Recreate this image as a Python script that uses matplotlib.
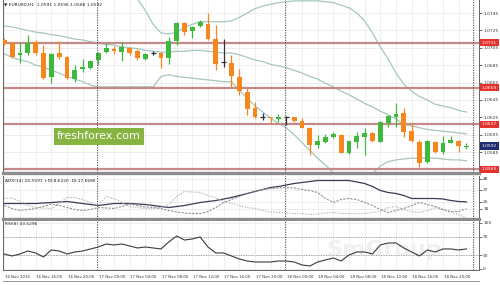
import matplotlib
matplotlib.use("Agg")
import matplotlib.pyplot as plt
import matplotlib.transforms as mtransforms
import numpy as np

W, H = 500, 285

# EURUSD H1, bar 0 = 16 Nov 12:00
opens = [1.0714, 1.0711, 1.0697, 1.0699, 1.0712, 1.0699, 1.0671, 1.0699, 1.0694, 1.0669,
         1.0681, 1.0682, 1.0691, 1.0700, 1.0704, 1.0700, 1.0705, 1.0701, 1.0692, 1.0699,
         1.0699, 1.0693, 1.0713, 1.0733, 1.0724, 1.0730, 1.0732, 1.0715, 1.0689, 1.0687,
         1.0671, 1.0654, 1.0636, 1.0625, 1.0625, 1.0623, 1.0625, 1.0625, 1.0621, 1.0613,
         1.0593, 1.0597, 1.0602, 1.0605, 1.0584, 1.0597, 1.0602, 1.0607, 1.0597, 1.0618,
         1.0625, 1.0630, 1.0609, 1.0597, 1.0573, 1.0597, 1.0585, 1.0595, 1.0598, 1.0591]
highs = [1.0716, 1.0712, 1.0711, 1.0720, 1.0714, 1.0708, 1.0699, 1.0713, 1.0696, 1.0685,
         1.0692, 1.0691, 1.0700, 1.0711, 1.0707, 1.0712, 1.0706, 1.0704, 1.0699, 1.0701,
         1.0700, 1.0717, 1.0735, 1.0735, 1.0730, 1.0737, 1.0745, 1.0731, 1.0715, 1.0697,
         1.0681, 1.0659, 1.0643, 1.0630, 1.0625, 1.0629, 1.0627, 1.0625, 1.0624, 1.0614,
         1.0605, 1.0606, 1.0608, 1.0606, 1.0598, 1.0608, 1.0613, 1.0608, 1.0621, 1.0628,
         1.0641, 1.0636, 1.0618, 1.0599, 1.0599, 1.0598, 1.0603, 1.0604, 1.0599, 1.0596]
lows = [1.0708, 1.0693, 1.0687, 1.0697, 1.0697, 1.0669, 1.0664, 1.0692, 1.0669, 1.0666,
        1.0677, 1.0681, 1.0685, 1.0699, 1.0698, 1.0690, 1.0697, 1.0691, 1.0691, 1.0697,
        1.0682, 1.0686, 1.0708, 1.0720, 1.0716, 1.0729, 1.0714, 1.0679, 1.0683, 1.0660,
        1.0651, 1.0628, 1.0624, 1.0622, 1.0618, 1.0620, 1.0616, 1.0620, 1.0613, 1.0582,
        1.0590, 1.0595, 1.0601, 1.0584, 1.0583, 1.0590, 1.0582, 1.0597, 1.0597, 1.0614,
        1.0614, 1.0602, 1.0597, 1.0568, 1.0572, 1.0584, 1.0583, 1.0595, 1.0585, 1.0588]
closes = [1.0709, 1.0694, 1.0699, 1.0711, 1.0699, 1.0670, 1.0698, 1.0694, 1.0670, 1.0679,
          1.0683, 1.0690, 1.0699, 1.0705, 1.0701, 1.0706, 1.0699, 1.0693, 1.0698, 1.0699,
          1.0693, 1.0713, 1.0733, 1.0723, 1.0729, 1.0735, 1.0715, 1.0686, 1.0689, 1.0672,
          1.0655, 1.0635, 1.0625, 1.0625, 1.0624, 1.0625, 1.0625, 1.0621, 1.0613, 1.0593,
          1.0598, 1.0602, 1.0606, 1.0584, 1.0598, 1.0603, 1.0607, 1.0598, 1.0620, 1.0626,
          1.0629, 1.0608, 1.0598, 1.0572, 1.0598, 1.0585, 1.0595, 1.0599, 1.0592, 1.0592]

# Bollinger bands
bb_upper = [1.0763] * 17 + [
    1.0761, 1.0748, 1.0732, 1.0722, 1.0721, 1.0723, 1.0728, 1.0732, 1.0735, 1.0735,
    1.0735, 1.0735, 1.0736, 1.0740, 1.0745, 1.0750, 1.0753, 1.0755, 1.0757, 1.0758,
    1.0759, 1.0759, 1.0759, 1.0759, 1.0758, 1.0757, 1.0754, 1.0751, 1.0745, 1.0736,
    1.0722, 1.0706, 1.0692, 1.0676, 1.0663, 1.0655, 1.0649, 1.0645, 1.0640, 1.0638,
    1.0636, 1.0633, 1.0631]
bb_middle = [1.0730, 1.0729, 1.0727, 1.0725, 1.0723, 1.0722, 1.0720, 1.0719, 1.0717, 1.0715,
             1.0714, 1.0712, 1.0710, 1.0709, 1.0708, 1.0706, 1.0705, 1.0704, 1.0702, 1.0701,
             1.0700, 1.0700, 1.0701, 1.0701, 1.0702, 1.0702, 1.0701, 1.0700, 1.0699, 1.0699,
             1.0697, 1.0694, 1.0691, 1.0689, 1.0686, 1.0684, 1.0682, 1.0679, 1.0676, 1.0672,
             1.0669, 1.0664, 1.0660, 1.0655, 1.0651, 1.0646, 1.0641, 1.0637, 1.0632, 1.0628,
             1.0623, 1.0617, 1.0615, 1.0613, 1.0611, 1.0610, 1.0609, 1.0608, 1.0607, 1.0606]
bb_lower = [1.0698, 1.0694, 1.0691, 1.0689, 1.0685, 1.0683, 1.0679, 1.0676, 1.0672, 1.0669,
            1.0666, 1.0662, 1.0660, 1.0660, 1.0660, 1.0660, 1.0660, 1.0660, 1.0660, 1.0660,
            1.0672, 1.0674, 1.0672, 1.0671, 1.0670, 1.0669, 1.0668, 1.0667, 1.0666, 1.0666,
            1.0656, 1.0647, 1.0638, 1.0631, 1.0624, 1.0618, 1.0613, 1.0605, 1.0596, 1.0587,
            1.0578, 1.0570, 1.0561, 1.0553, 1.0547, 1.0547, 1.0553, 1.0560, 1.0569, 1.0574,
            1.0576, 1.0577, 1.0578, 1.0578, 1.0578, 1.0578, 1.0577, 1.0576, 1.0576, 1.0575]

# ADX(14)
adx = [23, 23, 23, 23, 23, 23.5, 24, 24.5, 25, 24,
       23, 22, 21, 22, 23, 23, 23, 22.5, 22, 21,
       20, 19, 20, 21, 22.5, 24, 25, 26, 27.5, 29,
       31, 33, 35, 37, 39, 40, 41.5, 43, 44, 45,
       46, 46, 46, 46, 46, 44.5, 43, 40, 36, 34,
       33, 31, 28, 28, 28, 28, 27.5, 26, 25, 24.6]
plus_di = [28, 28.5, 25, 21, 19, 18.5, 18, 23, 29, 29,
           27, 24, 21, 30, 28, 24, 20, 19, 18, 18,
           19, 22, 30, 35, 34.5, 34, 31, 29, 25, 23,
           21, 19, 18, 16, 14.5, 14, 13.5, 13, 13, 12,
           12.5, 13.5, 14, 13, 13, 13, 13, 14, 15, 19,
           20, 17, 15, 14, 16, 19, 17, 14, 12, 8.6]
minus_di = [21, 18, 16, 17, 18, 20, 22.5, 21, 19, 17,
            16, 17, 19, 18.5, 18, 20, 22.5, 21, 19.5, 19,
            18, 16, 14.5, 13.5, 13, 13, 15, 19, 24, 27,
            30, 33, 35, 37, 38, 38.5, 39, 38.5, 37, 36,
            34, 28, 24, 27, 28, 27, 24, 21, 17, 14,
            16, 18, 21, 24, 22, 20, 17, 15, 15, 17.7]

# RSI(8)
rsi = [32.6, 28.3, 32.6, 39.1, 34.8, 26.1, 41.3, 39.1, 32.6, 37.0,
       39.1, 43.5, 47.8, 54.3, 52.2, 54.3, 50.0, 45.7, 47.8, 45.7,
       43.5, 58.7, 71.7, 63.0, 65.2, 69.6, 47.8, 34.8, 34.8, 28.3,
       21.7, 17.4, 15.2, 15.2, 15.2, 17.4, 17.4, 15.2, 8.7, 6.5,
       15.2, 19.6, 23.9, 17.4, 30.4, 37.0, 37.0, 32.6, 52.2, 56.5,
       56.5, 45.7, 37.0, 28.3, 41.3, 37.0, 43.5, 43.5, 41.3, 43.6]

levels = [1.0711, 1.0659, 1.0617, 1.0565]
last_price = 1.0592
price_ticks = [1.0745, 1.0725, 1.0705, 1.0685, 1.0665, 1.0645, 1.0625, 1.0605, 1.0585]
adx_ticks = [48, 37, 25, 18]
rsi_ticks = [100, 70, 30, 0]
time_labels = ["16 Nov 2016", "16 Nov 16:00", "16 Nov 20:00", "17 Nov 00:00", "17 Nov 04:00",
               "17 Nov 08:00", "17 Nov 12:00", "17 Nov 16:00", "17 Nov 20:00", "18 Nov 00:00",
               "18 Nov 04:00", "18 Nov 08:00", "18 Nov 12:00", "18 Nov 16:00", "18 Nov 20:00"]
time_label_bars = list(range(0, 60, 4))
day_breaks = [12, 36, 60]

BULL = "#3dba3d"
BEAR = "#f7861c"
DOJI = "#333333"
BAND = "#a6c7bd"
LEVEL = "#c48a8a"
SEP = "#8c8c8c"
TXT = "#333333"
FS = 3.2


def axes_box(top, bottom):
    # pixel rows -> figure fraction rectangle, plot area spans x 3..479
    return [3 / W, 1 - bottom / H, 476 / W, (bottom - top) / H]


fig = plt.figure(figsize=(W / 100, H / 100), dpi=100)
fig.patch.set_facecolor("white")

ax = fig.add_axes(axes_box(0, 173))
ax_adx = fig.add_axes(axes_box(175.5, 218.5))
ax_rsi = fig.add_axes(axes_box(221, 270))

n = len(opens)
x = np.arange(n)
xlim = (-0.17, 60.6)

for a in (ax, ax_adx, ax_rsi):
    a.set_xlim(*xlim)
    a.set_xticks(np.arange(0, 61, 2))
    a.tick_params(axis="x", bottom=False, labelbottom=False)
    a.yaxis.tick_right()
    a.tick_params(axis="y", direction="out", length=2, width=0.5, pad=1,
                  labelsize=FS, colors=TXT)
    a.grid(True, color="#ebebeb", lw=0.6)
    a.set_axisbelow(True)
    for s in a.spines.values():
        s.set_color("#666666")
        s.set_linewidth(0.7)
    a.spines["top"].set_visible(False)
    for d in day_breaks:
        a.axvline(d - 0.15, color="#444444", lw=0.6, ls=(0, (1.5, 1.5)), zorder=5)

ax.spines["bottom"].set_color(SEP)
ax.spines["bottom"].set_linewidth(2.4)
ax_adx.spines["bottom"].set_color(SEP)
ax_adx.spines["bottom"].set_linewidth(2.4)

# ---------------- main price panel ----------------
ax.set_ylim(1.05609, 1.0760)
ax.set_yticks(price_ticks)
ax.set_yticklabels([f"{p:.4f}" for p in price_ticks])

ax.plot(x, bb_upper, color=BAND, lw=0.9, zorder=2)
ax.plot(x, bb_middle, color=BAND, lw=0.9, zorder=2)
ax.plot(x, bb_lower, color=BAND, lw=0.9, zorder=2)

for lv in levels:
    ax.axhline(lv, color=LEVEL, lw=1.6, zorder=2)

body_w = 0.62
for i in range(n):
    o, h, l, c = opens[i], highs[i], lows[i], closes[i]
    if abs(c - o) < 0.00003:
        col = DOJI
    else:
        col = BULL if c > o else BEAR
    ax.vlines(i, l, h, color=col, lw=0.9, zorder=3)
    if col == DOJI:
        ax.hlines(o, i - body_w / 2, i + body_w / 2, color=col, lw=0.9, zorder=3)
    else:
        ax.bar(i, abs(c - o), bottom=min(o, c), width=body_w, color=col, lw=0, zorder=4)

ytrans = mtransforms.blended_transform_factory(ax.transAxes, ax.transData)
for lv in levels:
    ax.text(1.006, lv, f"{lv:.4f}", transform=ytrans, fontsize=FS, color="white",
            ha="left", va="center", zorder=10, clip_on=False,
            bbox=dict(boxstyle="square,pad=0.35", fc="#e5322d", ec="none"))
ax.text(1.006, last_price, f"{last_price:.4f}", transform=ytrans, fontsize=FS, color="white",
        ha="left", va="center", zorder=10, clip_on=False,
        bbox=dict(boxstyle="square,pad=0.35", fc="#1f2c73", ec="none"))

ax.text(0.003, 0.985, "\u25bc EURUSD,H1  1.0591 1.0596 1.0588 1.0592", transform=ax.transAxes,
        fontsize=FS, color="#222222", ha="left", va="top")

fig.text(99 / W, 1 - 136.5 / H, "freshforex.com", fontsize=8, color="white",
         ha="center", va="center",
         bbox=dict(boxstyle="square,pad=0.3", fc="#85b440", ec="none"))

# ---------------- ADX panel ----------------
ax_adx.set_ylim(8, 51)
ax_adx.set_yticks(adx_ticks)
ax_adx.set_yticklabels([str(t) for t in adx_ticks])
ax_adx.plot(x, adx, color="#3b3b55", lw=0.9, zorder=3)
ax_adx.plot(x, plus_di, color="#b5b5a8", lw=0.8, ls=(0, (1.2, 1.2)), zorder=3)
ax_adx.plot(x, minus_di, color="#8f8f8f", lw=0.8, ls=(0, (2, 1.2)), zorder=3)
ax_adx.text(0.004, 0.92, "ADX(14) 24.5591 +DI:8.6220 -DI:17.6686", transform=ax_adx.transAxes,
            fontsize=FS, color="#222222", ha="left", va="top")

# ---------------- RSI panel ----------------
ax_rsi.set_ylim(-2.2, 104.3)
ax_rsi.set_yticks(rsi_ticks)
ax_rsi.set_yticklabels([str(t) for t in rsi_ticks])
for lvl in (70, 30):
    ax_rsi.axhline(lvl, color="#9a9a9a", lw=0.6, ls=(0, (1.5, 1.5)), zorder=2)
ax_rsi.plot(x, rsi, color="#3b3b3b", lw=0.8, zorder=3)
ax_rsi.text(0.004, 0.97, "RSI(8) 43.6296", transform=ax_rsi.transAxes,
            fontsize=FS, color="#222222", ha="left", va="top")
ax_rsi.text(0.80, 0.40, "SmGroup", transform=ax_rsi.transAxes, fontsize=16,
            color="#f0f0f0", ha="center", va="center", fontweight="bold", zorder=1)

xtrans = mtransforms.blended_transform_factory(ax_rsi.transData, ax_rsi.transAxes)
for b, lab in zip(time_label_bars, time_labels):
    ax_rsi.text(b + 0.1, -0.14, lab, transform=xtrans, fontsize=2.75, color=TXT,
                ha="left", va="center", clip_on=False)

fig.add_artist(plt.Line2D([3 / W, 479 / W], [1 - 281 / H, 1 - 281 / H],
                          color="#888888", lw=0.6))

fig.savefig("out.png", dpi=100, facecolor="white")
